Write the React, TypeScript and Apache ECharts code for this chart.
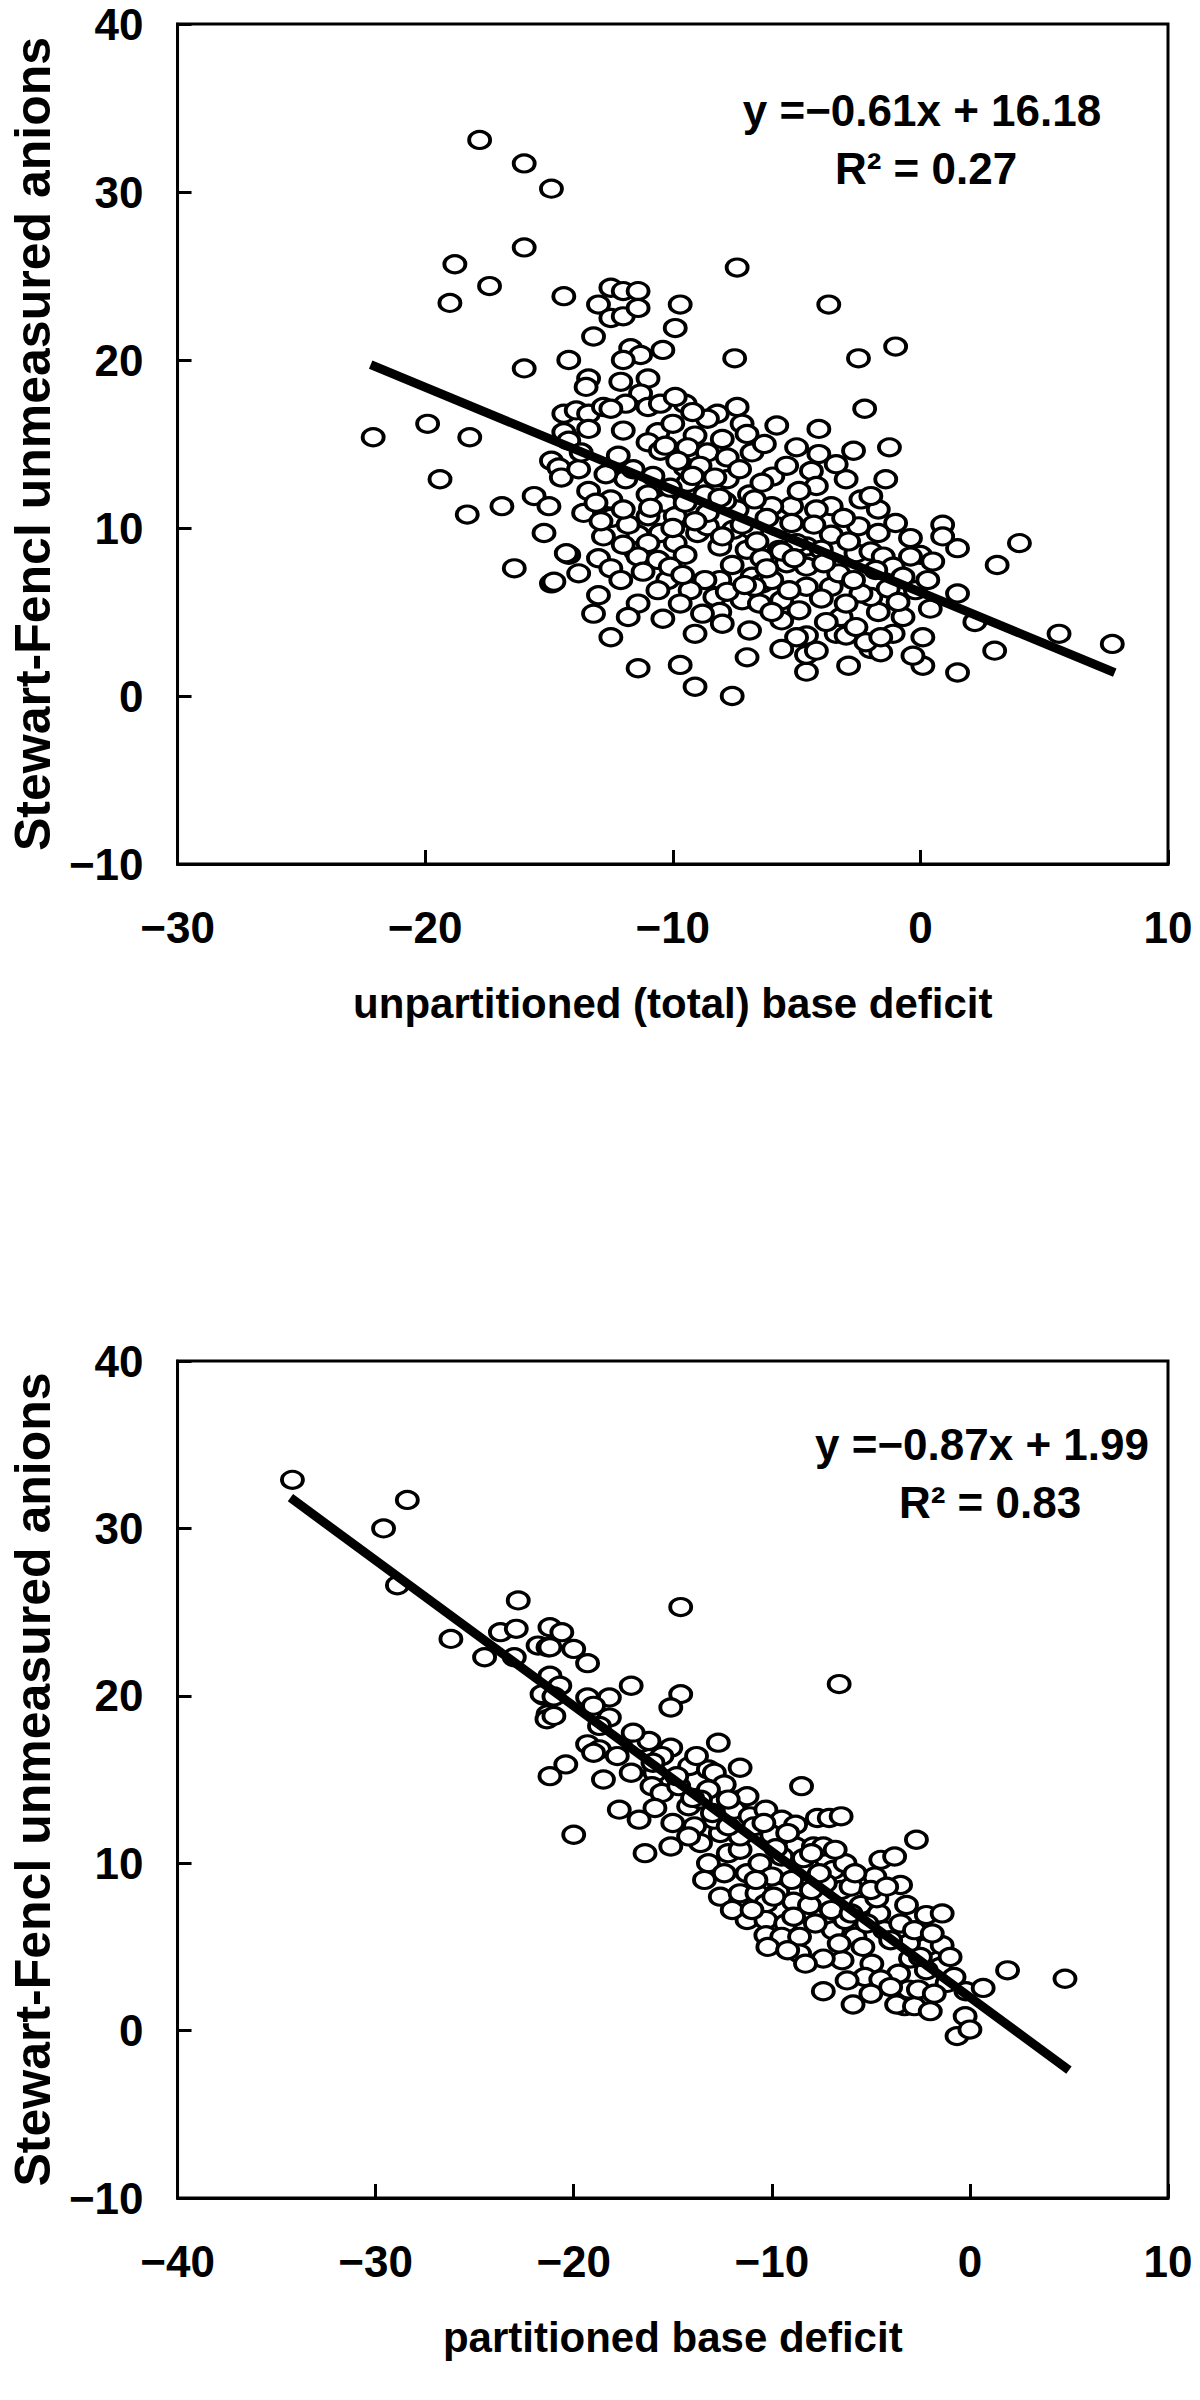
import React, { useEffect, useRef } from "react";
import * as echarts from "echarts";

// ---------- DATA ----------
const xTicksTop = [-30, -20, -10, 0, 10];
const xTicksBottom = [-40, -30, -20, -10, 0, 10];
const yTicks = [-10, 0, 10, 20, 30, 40];

const topTitleX = "unpartitioned (total) base deficit";
const bottomTitleX = "partitioned base deficit";
const titleY = "Stewart-Fencl unmeasured anions";

const topEquation = "y =\u22120.61x + 16.18";
const topR2 = "R\u00B2 = 0.27";
const bottomEquation = "y =\u22120.87x + 1.99";
const bottomR2 = "R\u00B2 = 0.83";

// drawn regression lines (slope, intercept, x range as drawn)
const topFitSlope = -0.61;
const topFitIntercept = 6.18;
const topFitRange = [-22.2, 7.85];
const bottomFitSlope = -0.87;
const bottomFitIntercept = 1.99;
const bottomFitRange = [-34.3, 5.0];

// [unpartitioned base deficit, SF unmeasured anions]
const topPoints: number[][] = [
  [-17.8, 33.1], [-16.0, 31.7], [-14.9, 30.2], [-16.0, 26.7], [-18.8, 25.7], [-17.4, 24.4], [-19.0, 23.4],
  [-14.4, 23.8], [-16.0, 19.5], [-14.2, 20.0], [-22.1, 15.4], [-19.9, 16.2], [-18.2, 15.4], [-19.4, 12.9],
  [-18.3, 10.8], [-16.9, 11.3], [-15.2, 9.7], [-14.2, 8.4], [-16.4, 7.6], [-14.9, 6.7], [-14.4, 16.8],
  [-14.3, 15.4], [-14.9, 14.0], [-14.6, 13.6], [-14.5, 13.0],
  [-7.4, 25.5], [-12.5, 24.3], [-12.0, 24.1], [-11.4, 24.1], [-13.0, 23.3], [-12.5, 22.5], [-12.0, 22.6],
  [-11.4, 23.1], [-9.7, 23.3], [-9.9, 21.9], [-13.2, 21.4], [-7.5, 20.1], [-11.7, 20.7], [-11.3, 20.3],
  [-10.4, 20.6], [-12.0, 20.0], [-11.0, 18.9], [-12.1, 18.7], [-13.4, 18.9], [-13.5, 18.4], [-11.3, 18.0],
  [-11.9, 17.4], [-11.0, 17.2], [-10.5, 17.4], [-9.5, 17.4], [-9.9, 17.8], [-13.9, 17.0], [-13.4, 16.8],
  [-12.8, 17.2], [-12.5, 17.1], [-13.4, 15.9], [-14.4, 15.7], [-14.2, 15.2], [-8.2, 16.8], [-7.4, 17.2],
  [-7.2, 16.2], [-8.6, 16.5], [-9.1, 15.5], [-10.6, 15.7], [-11.0, 15.1], [-10.5, 14.6], [-9.4, 14.8],
  [-8.6, 14.5], [-7.8, 14.2], [-6.8, 14.5], [-9.5, 13.6], [-8.9, 13.7], [-7.8, 12.9], [-7.3, 13.5],
  [-6.9, 12.0], [-6.8, 9.9], [-13.8, 13.5], [-13.4, 12.2], [-13.6, 10.9], [-12.5, 11.7], [-12.5, 10.6],
  [-11.9, 12.9], [-11.0, 12.0], [-11.0, 10.7], [-10.3, 11.5], [-9.9, 10.7], [-10.5, 9.7], [-11.4, 9.6],
  [-12.8, 9.5], [-13.0, 8.2], [-12.5, 7.6], [-11.5, 8.6], [-11.0, 9.1], [-11.4, 8.3], [-10.6, 8.1],
  [-9.9, 9.1], [-9.5, 8.4], [-9.0, 9.7], [-8.6, 10.1], [-8.6, 10.9], [-9.5, 11.5], [-8.7, 12.0],
  [-9.4, 12.7], [-8.1, 8.9], [-7.55, 9.9], [-7.4, 11.1], [-7.0, 8.7], [-8.1, 6.9], [-8.7, 6.9],
  [-9.3, 6.3], [-10.2, 6.9], [-10.6, 6.3], [-11.4, 5.5], [-12.1, 6.9], [-9.7, 5.5], [-8.3, 5.9],
  [-8.1, 5.0], [-8.0, 4.3], [-7.2, 5.7], [-6.8, 7.1], [-6.5, 5.5], [-12.5, 3.5], [-9.1, 3.7],
  [-11.4, 1.65], [-9.7, 1.85], [-9.1, 0.55], [-7.6, 0.0], [-14.3, 8.5], [-14.8, 6.8],
  [-3.7, 23.3], [-1.0, 20.8], [-2.5, 20.1], [-2.25, 17.1], [-1.25, 14.8], [-1.4, 12.9], [-4.1, 15.9],
  [-4.1, 14.4], [-5.0, 14.8], [-6.3, 15.0], [-3.0, 12.9], [0.9, 10.2], [1.5, 8.8], [0.9, 9.5],
  [0.0, 8.4], [-0.4, 8.3], [0.5, 8.0], [1.5, 6.1], [0.4, 5.2], [0.1, 3.5], [0.1, 1.8], [1.5, 1.4],
  [-2.9, 1.8], [-4.6, 1.45], [-4.6, 2.45], [-4.2, 2.7], [-2.0, 2.8], [-1.6, 2.6], [-1.1, 3.7],
  [-0.7, 4.7], [-1.7, 5.0], [-2.0, 5.9], [-2.4, 6.1], [-3.2, 4.7], [-3.4, 3.7], [-3.0, 3.6],
  [-3.6, 6.5], [-3.3, 7.3], [-4.6, 6.5], [-4.6, 3.6], [-5.0, 3.5], [-5.6, 4.5], [-5.6, 5.7],
  [-6.0, 5.0], [-6.4, 6.7], [-6.0, 6.9], [-5.3, 6.3], [-4.9, 5.1], [-4.6, 7.7], [-5.4, 7.9],
  [-5.7, 8.7], [-6.4, 8.2], [-5.8, 10.1], [-5.2, 11.3], [-6.0, 11.3], [-6.7, 11.7], [-5.96, 13.06],
  [-5.4, 13.7], [-4.4, 13.4], [-4.2, 12.5], [-3.6, 11.3], [-4.2, 11.1], [-2.4, 11.7], [-1.7, 11.1],
  [-2.0, 11.9], [-1.0, 10.3], [-1.7, 9.7], [-2.5, 10.1], [-3.6, 9.6], [-2.6, 8.5], [-2.0, 8.6],
  [-1.5, 8.3], [-1.1, 7.7], [-0.7, 7.1], [-4.6, 8.9], [-4.0, 8.7], [-5.0, 9.1], [-5.6, 8.6],
  [-6.7, 6.5], [-2.6, 4.1], [-2.2, 3.2], [-1.6, 3.5],
  [3.1, 7.8], [4.0, 9.1], [2.2, 4.4], [3.0, 2.7], [5.6, 3.7], [7.75, 3.1],
  [-12.2, 14.3], [-11.6, 13.5], [-10.8, 13.1], [-10.1, 12.4], [-9.2, 13.1], [-8.3, 13.0], [-7.9, 11.6],
  [-8.1, 11.8], [-6.4, 12.7], [-6.2, 10.6], [-7.2, 10.2], [-8.0, 9.5], [-9.1, 10.4], [-10.0, 10.0],
  [-10.9, 11.2], [-11.8, 10.2], [-12.9, 10.4], [-13.1, 11.5], [-12.0, 9.0], [-11.2, 7.4], [-10.1, 7.7],
  [-9.6, 7.2], [-7.6, 7.8], [-7.8, 6.2], [-7.1, 6.6], [-6.2, 7.6], [-5.1, 8.2], [-4.3, 10.2],
  [-3.1, 10.6], [-2.9, 9.2], [-3.9, 7.9], [-4.0, 5.8], [-3.0, 5.5], [-2.7, 6.9], [-1.3, 6.4],
  [-0.9, 5.6], [-0.2, 6.3], [-0.4, 9.4], [0.3, 6.9], [-12.7, 13.2], [-13.7, 14.5], [-12.0, 15.8],
  [-10.0, 16.2], [-9.2, 16.9], [-8.0, 15.3], [-7.0, 15.6], [-5.8, 16.1], [-4.9, 12.2], [-3.4, 13.8],
  [-2.7, 14.6], [-6.6, 9.2], [-5.2, 10.3], [-9.8, 14.0], [-10.3, 14.9], [-12.0, 11.1], [-13.0, 6.0],
  [-11.8, 4.7], [-10.4, 4.6], [-8.8, 4.9], [-6.9, 3.9], [-5.6, 2.8], [-7.0, 2.3], [-3.8, 4.4],
  [-0.3, 2.4], [-1.8, 7.5], [-15.6, 11.9], [-15.0, 11.3], [-13.8, 7.3], [-13.2, 4.9],
];

// [partitioned base deficit, SF unmeasured anions]
const bottomPoints: number[][] = [
  [-34.2, 32.9], [-28.4, 31.7], [-29.6, 30.0], [-28.9, 26.6], [-22.8, 25.7], [-26.2, 23.4], [-24.5, 22.3],
  [-23.7, 23.8], [-22.9, 24.0], [-23.0, 22.3], [-21.2, 24.1], [-21.8, 23.0], [-21.3, 22.9], [-21.2, 21.2],
  [-21.5, 20.0], [-21.3, 18.9],
  [-14.6, 25.3], [-20.6, 23.8], [-21.2, 22.9], [-20.0, 22.8], [-19.3, 21.95], [-20.7, 20.6], [-21.6, 20.1],
  [-21.0, 19.96], [-21.35, 18.6], [-21.0, 18.8], [-17.1, 20.6], [-19.3, 19.9], [-18.2, 19.9], [-19.0, 19.4],
  [-18.2, 18.7], [-18.7, 18.2], [-14.6, 20.1], [-15.1, 19.3], [-12.7, 17.2], [-19.3, 17.1], [-18.7, 16.8],
  [-19.0, 16.6], [-20.4, 15.9], [-21.2, 15.2], [-16.6, 17.2], [-16.2, 17.3], [-15.1, 16.9], [-15.55, 16.4],
  [-17.1, 15.4], [-15.9, 15.4], [-16.05, 14.6], [-15.55, 14.2], [-14.15, 15.8], [-13.2, 15.6], [-12.9, 15.4],
  [-11.6, 15.7], [-12.4, 14.7], [-13.2, 14.4], [-14.7, 14.6], [-14.2, 13.4], [-13.6, 13.8], [-11.6, 13.8],
  [-11.9, 13.2], [-11.1, 12.8], [-17.7, 13.2], [-16.7, 12.6], [-15.9, 13.3], [-20.0, 11.7], [-16.4, 10.6],
  [-15.1, 11.0], [-13.9, 12.2], [-13.6, 11.2], [-13.2, 10.0], [-12.2, 10.6], [-12.4, 9.4], [-11.6, 10.8],
  [-11.25, 9.4], [-10.6, 10.0], [-12.6, 8.0], [-11.6, 8.2], [-10.75, 8.2], [-10.9, 12.2], [-12.6, 11.8],
  [-12.9, 12.6],
  [-8.5, 14.6], [-11.25, 14.0], [-10.3, 13.2], [-9.5, 12.6], [-8.8, 12.3], [-7.7, 12.7], [-7.1, 12.7],
  [-2.7, 11.4], [-10.0, 11.7], [-8.8, 11.0], [-7.9, 11.0], [-7.4, 11.0], [-9.5, 10.4], [-8.2, 9.8],
  [-6.9, 9.6], [-6.3, 10.0], [-4.5, 10.2], [-3.8, 10.4], [-3.5, 8.7], [-4.8, 9.2], [-6.5, 8.4],
  [-7.3, 8.8], [-9.7, 8.3], [-8.9, 7.7], [-8.1, 7.5], [-10.3, 7.6], [-11.25, 6.6], [-10.3, 6.6],
  [-9.3, 6.4], [-10.3, 5.7], [-9.5, 5.6], [-8.6, 5.6], [-6.9, 6.0], [-6.3, 6.6], [-5.5, 7.5],
  [-4.6, 7.0], [-4.7, 7.9], [-5.8, 5.6], [-4.3, 6.0], [-3.5, 6.4], [-2.2, 6.9], [-1.4, 7.0],
  [-2.2, 5.0], [-1.4, 5.1], [-3.1, 5.2], [-1.5, 3.8], [-2.2, 3.6], [-3.6, 3.4], [-4.95, 4.0],
  [-6.45, 4.2], [-7.4, 4.3], [-8.6, 4.6], [-8.3, 4.0], [-5.3, 3.2], [-4.5, 3.05], [-7.4, 2.35],
  [-5.9, 1.56], [-3.3, 1.46], [-3.7, 1.56], [-2.8, 1.46], [-2.0, 1.16], [-3.1, 2.45], [-2.6, 2.45],
  [-1.15, 2.85], [-0.2, 2.35], [0.67, 2.55], [-0.24, 0.86], [-0.65, -0.33], [0.0, 0.06], [1.9, 3.6],
  [4.8, 3.1], [-6.6, 20.7], [-6.5, 12.8],
  [-10.0, 9.2], [-9.0, 9.0], [-8.0, 8.4], [-7.0, 7.2], [-6.0, 7.0], [-5.2, 6.4], [-4.0, 5.4],
  [-3.0, 4.3], [-2.5, 4.4], [-1.8, 2.2], [-9.8, 10.9], [-8.4, 10.3], [-7.6, 9.4], [-6.0, 8.6],
  [-5.4, 5.0], [-6.6, 5.2], [-7.8, 6.4], [-8.9, 6.8], [-9.9, 8.0], [-10.8, 9.0], [-11.6, 11.6],
  [-12.2, 12.2], [-13.0, 13.0], [-14.0, 13.9], [-14.8, 15.2], [-13.8, 16.4], [-12.2, 13.8], [-10.4, 12.4],
  [-9.2, 11.8], [-8.0, 10.6], [-6.8, 10.8], [-5.8, 9.4], [-5.0, 8.4], [-4.2, 8.6], [-3.2, 7.5],
  [-2.8, 6.0], [-1.9, 5.8], [-1.0, 4.4], [-0.8, 3.2], [-4.0, 2.6], [-5.0, 2.2], [-6.2, 3.0],
  [-17.0, 17.8], [-17.8, 16.4], [-18.5, 15.0], [-16.0, 16.0], [-15.0, 12.4], [-14.2, 11.6], [-13.4, 9.0],
  [-12.0, 7.2], [-11.0, 7.2], [-10.2, 5.0], [-9.2, 4.8],
];

// ---------- STYLE ----------
const FONT = '"Liberation Sans", Arial, Helvetica, sans-serif';
const fmt = (v: number) => (v < 0 ? "\u2212" + Math.abs(v) : String(v));

function fitLine(slope: number, intercept: number, range: number[]) {
  return range.map((x) => [x, slope * x + intercept]);
}

function makeX(gridIndex: number, ticks: number[], name: string) {
  return {
    gridIndex,
    type: "value",
    min: ticks[0],
    max: ticks[ticks.length - 1],
    interval: ticks[1] - ticks[0],
    axisLine: { show: true, onZero: false, lineStyle: { color: "#000", width: 3 } },
    axisTick: { show: true, inside: true, length: 14, lineStyle: { color: "#000", width: 3 } },
    axisLabel: {
      margin: 41,
      color: "#000",
      fontSize: 44,
      fontWeight: "bold",
      fontFamily: FONT,
      formatter: fmt,
    },
    splitLine: { show: false },
    name,
    nameLocation: "middle",
    nameGap: 118,
    nameTextStyle: { color: "#000", fontSize: 42, fontWeight: "bold", fontFamily: FONT },
  };
}

function makeY(gridIndex: number) {
  return {
    gridIndex,
    type: "value",
    min: yTicks[0],
    max: yTicks[yTicks.length - 1],
    interval: yTicks[1] - yTicks[0],
    axisLine: { show: true, onZero: false, lineStyle: { color: "#000", width: 3 } },
    axisTick: { show: true, inside: true, length: 14, lineStyle: { color: "#000", width: 3 } },
    axisLabel: {
      margin: 34,
      color: "#000",
      fontSize: 44,
      fontWeight: "bold",
      fontFamily: FONT,
      formatter: fmt,
    },
    splitLine: { show: false },
    name: titleY,
    nameLocation: "middle",
    nameGap: 94,
    nameRotate: 90,
    nameTextStyle: { color: "#000", fontSize: 50, fontWeight: "bold", fontFamily: FONT },
  };
}

function scatter(idx: number, data: number[][]) {
  return {
    type: "scatter",
    xAxisIndex: idx,
    yAxisIndex: idx,
    data,
    symbol: "circle",
    symbolSize: [21, 17],
    itemStyle: { color: "#fff", borderColor: "#000", borderWidth: 3.5, opacity: 1 },
    z: 2,
    silent: true,
  };
}

function fit(idx: number, data: number[][]) {
  return {
    type: "line",
    xAxisIndex: idx,
    yAxisIndex: idx,
    data,
    showSymbol: false,
    symbol: "none",
    lineStyle: { color: "#000", width: 9 },
    z: 3,
    silent: true,
  };
}

function label(x: number, y: number, text: string) {
  return {
    type: "text",
    x,
    y,
    z: 10,
    style: {
      text,
      fill: "#000",
      fontSize: 44,
      fontWeight: "bold",
      fontFamily: FONT,
      align: "center",
      verticalAlign: "middle",
    },
  };
}

export default function App() {
  const ref = useRef<HTMLDivElement>(null);
  useEffect(() => {
    if (!ref.current) return;
    const chart = echarts.init(ref.current, undefined, { renderer: "svg" });
    chart.setOption({
      animation: false,
      backgroundColor: "#fff",
      grid: [
        { left: 162, top: 24, width: 1006, height: 840, show: true, borderColor: "#000", borderWidth: 3, backgroundColor: "transparent" },
        { left: 162, top: 1361, width: 1006, height: 837, show: true, borderColor: "#000", borderWidth: 3, backgroundColor: "transparent" },
      ],
      xAxis: [makeX(0, xTicksTop, topTitleX), makeX(1, xTicksBottom, bottomTitleX)],
      yAxis: [makeY(0), makeY(1)],
      series: [
        scatter(0, topPoints),
        fit(0, fitLine(topFitSlope, topFitIntercept, topFitRange)),
        scatter(1, bottomPoints),
        fit(1, fitLine(bottomFitSlope, bottomFitIntercept, bottomFitRange)),
      ],
      graphic: [
        label(922, 110, topEquation),
        label(926, 168, topR2),
        label(982, 1444, bottomEquation),
        label(990, 1502, bottomR2),
      ],
    });
    return () => chart.dispose();
  }, []);
  return (
    <div
      ref={ref}
      style={{ position: "absolute", left: 0, top: 0, width: 1200, height: 2400, background: "#fff" }}
    />
  );
}
